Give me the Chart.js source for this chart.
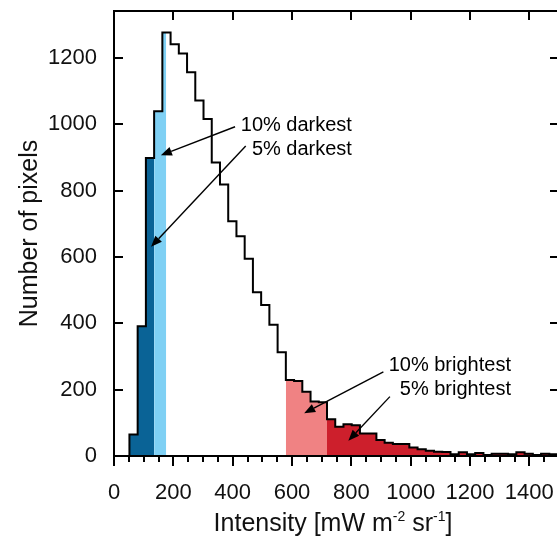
<!DOCTYPE html>
<html>
<head>
<meta charset="utf-8">
<script src="https://cdn.jsdelivr.net/npm/chart.js@4.4.1/dist/chart.umd.min.js"></script>
<style>
  html, body { margin: 0; padding: 0; background: #fff; overflow: hidden; }
  #wrap { width: 565px; height: 543px; }
</style>
</head>
<body>
<div id="wrap"><canvas id="myChart" width="565" height="543"></canvas></div>
<script>
// histogram bins (left edge of first bin + fixed width), counts
const binStart = 52;
const binWidth = 27.75;
const counts = [65, 391, 899, 1040, 1277, 1242, 1214, 1157, 1072, 1016, 885, 819, 708, 663, 595,
  494, 455, 396, 313, 229, 226, 194, 164, 162, 111, 88, 96, 93, 68, 68, 48, 40, 36, 36, 26, 20,
  16, 13, 12, 5, 11, 5, 9, 3, 7, 7, 5, 11, 7, 3, 7, 5, 4];

// percentile cuts on the intensity axis
const darkCuts = [135.25, 176];     // 5% darkest, 10% darkest
const brightCuts = [579.25, 718];   // 10% brightest, 5% brightest

const xTickValues = [0, 200, 400, 600, 800, 1000, 1200, 1400];
const yTickValues = [0, 200, 400, 600, 800, 1000, 1200];

const labels = ['10% darkest', '5% darkest', '10% brightest', '5% brightest'];

const FONT = "'Liberation Sans', Arial, Helvetica, sans-serif";

const binLeft = counts.map((c, i) => binStart + i * binWidth);
const lastRight = binLeft[binLeft.length - 1] + binWidth;

// outline of the whole histogram
const outline = [{x: binStart, y: 0}]
  .concat(binLeft.map((l, i) => ({x: l, y: counts[i]})))
  .concat([{x: lastRight, y: 0}]);

// filled piece of the histogram between two intensities
function segment(a, b) {
  const pts = [];
  for (let i = 0; i < counts.length; i++) {
    const l = binLeft[i], r = l + binWidth;
    if (r <= a || l >= b) continue;
    pts.push({x: Math.max(l, a), y: counts[i]});
  }
  pts.push({x: Math.min(b, lastRight), y: 0});
  return pts;
}

function fillSet(pts, color) {
  return {
    data: pts, stepped: 'before', fill: 'origin', backgroundColor: color,
    borderWidth: 0, borderColor: color, pointRadius: 0, order: 2
  };
}

// annotation placement, in data units
const notes = [
  {text: labels[0], x: 802, y: 998, from: [408, 993], to: [158, 907]},
  {text: labels[1], x: 802, y: 925, from: [444, 935], to: [125, 631]},
  {text: labels[2], x: 1338, y: 274, from: [908, 254], to: [641, 129]},
  {text: labels[3], x: 1338, y: 202, from: [930, 179], to: [790, 46]}
];

const frameTicks = {
  id: 'frameTicks',
  afterDatasetsDraw(chart) {
    const {ctx, chartArea: a, scales: {x, y}} = chart;
    ctx.save();
    ctx.strokeStyle = '#000';
    ctx.lineWidth = 2;
    ctx.strokeRect(a.left, a.top, a.right - a.left, a.bottom - a.top);
    ctx.beginPath();
    for (let v = 0; v <= 1500; v += 50) {
      const px = Math.round(x.getPixelForValue(v));
      const major = v % 200 === 0;
      ctx.moveTo(px, a.bottom);
      ctx.lineTo(px, a.bottom + (major ? 10 : 6));
      if (major) {
        ctx.moveTo(px, a.top);
        ctx.lineTo(px, a.top + 9);
      }
    }
    yTickValues.forEach(v => {
      const py = Math.round(y.getPixelForValue(v));
      ctx.moveTo(a.left, py);
      ctx.lineTo(a.left + 9, py);
      ctx.moveTo(a.right, py);
      ctx.lineTo(a.right - 9, py);
    });
    ctx.stroke();
    ctx.restore();
  }
};

function arrow(ctx, x1, y1, x2, y2) {
  const ang = Math.atan2(y2 - y1, x2 - x1);
  const len = 11, half = 4.5;
  const bx = x2 - len * Math.cos(ang), by = y2 - len * Math.sin(ang);
  ctx.beginPath();
  ctx.moveTo(x1, y1);
  ctx.lineTo(bx, by);
  ctx.stroke();
  ctx.beginPath();
  ctx.moveTo(x2, y2);
  ctx.lineTo(bx - half * Math.sin(ang), by + half * Math.cos(ang));
  ctx.lineTo(bx + half * Math.sin(ang), by - half * Math.cos(ang));
  ctx.closePath();
  ctx.fill();
}

const notesPlugin = {
  id: 'notes',
  afterDraw(chart) {
    const {ctx, chartArea: a, scales: {x, y}} = chart;
    ctx.save();
    ctx.fillStyle = '#000';
    ctx.strokeStyle = '#000';
    ctx.lineWidth = 1.4;
    ctx.font = '20px ' + FONT;
    ctx.textAlign = 'right';
    ctx.textBaseline = 'middle';
    notes.forEach(n => {
      ctx.fillText(n.text, x.getPixelForValue(n.x), y.getPixelForValue(n.y));
      arrow(ctx, x.getPixelForValue(n.from[0]), y.getPixelForValue(n.from[1]),
        x.getPixelForValue(n.to[0]), y.getPixelForValue(n.to[1]));
    });

    // x axis title with superscripts
    const parts = [['Intensity [mW m', false], ['-2', true], [' sr', false], ['-1', true], [']', false]];
    const big = '25px ' + FONT, small = '14px ' + FONT;
    let w = 0;
    parts.forEach(p => { ctx.font = p[1] ? small : big; w += ctx.measureText(p[0]).width; });
    let cx = 333 - w / 2;
    const cy = 524;
    ctx.textAlign = 'left';
    ctx.fillStyle = '#111';
    parts.forEach(p => {
      ctx.font = p[1] ? small : big;
      ctx.fillText(p[0], cx, p[1] ? cy - 7 : cy);
      cx += ctx.measureText(p[0]).width;
    });
    ctx.restore();
  }
};

const ctx = document.getElementById('myChart').getContext('2d');
const chart = new Chart(ctx, {
  type: 'line',
  data: {
    datasets: [
      {
        data: outline, stepped: 'before', fill: false, borderColor: '#000',
        borderWidth: 2, pointRadius: 0, order: 0
      },
      fillSet(segment(binStart, darkCuts[0]), '#0a6396'),
      fillSet(segment(darkCuts[0], darkCuts[1]), '#7fd0f4'),
      fillSet(segment(brightCuts[0], brightCuts[1]), '#f08283'),
      fillSet(segment(brightCuts[1], lastRight), '#cd1f2c')
    ]
  },
  options: {
    responsive: false,
    animation: false,
    layout: {padding: {left: 0, top: 11, right: 6, bottom: 0}},
    plugins: {legend: {display: false}, tooltip: {enabled: false}},
    scales: {
      x: {
        type: 'linear', min: 0, max: 1500,
        grid: {display: false, drawTicks: false},
        border: {display: false},
        afterBuildTicks: s => { s.ticks = xTickValues.map(v => ({value: v})); },
        afterFit: s => { s.height = 87; s.paddingLeft = 0; s.paddingRight = 0; },
        ticks: {
          padding: 24, color: '#111', font: {size: 22, family: FONT}, maxRotation: 0,
          callback: v => String(v)
        }
      },
      y: {
        min: 0, max: 1342,
        grid: {display: false, drawTicks: false},
        border: {display: false},
        afterBuildTicks: s => { s.ticks = yTickValues.map(v => ({value: v})); },
        afterFit: s => { s.width = 114; s.paddingTop = 0; s.paddingBottom = 0; },
        ticks: {padding: 17, color: '#111', font: {size: 22, family: FONT}, callback: v => String(v)},
        title: {
          display: true, text: 'Number of pixels', color: '#111',
          font: {size: 25, family: FONT}, padding: {top: 15, bottom: 0}
        }
      }
    }
  },
  plugins: [frameTicks, notesPlugin]
});
</script>
</body>
</html>
